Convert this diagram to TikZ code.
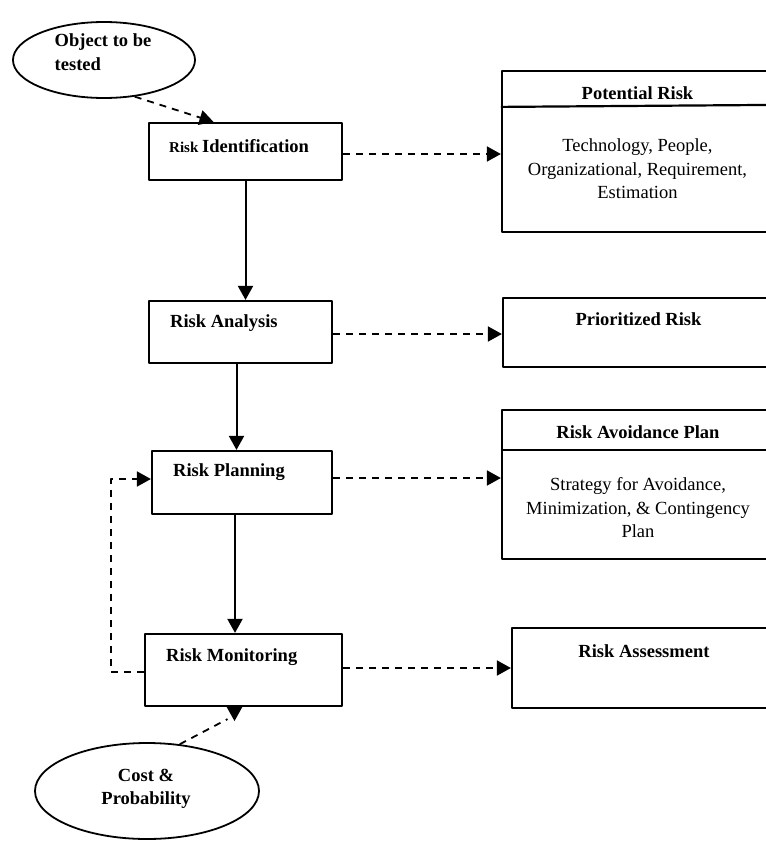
\documentclass[tikz,border=0pt]{standalone}
\usepackage{fontspec}
\setmainfont{Liberation Serif}
\usetikzlibrary{arrows.meta,shapes.geometric}

\begin{document}
\begin{tikzpicture}[x=1pt, y=-1pt, line join=round, >={Triangle[length=14pt,width=15pt]},
	font=\fontsize{18.5}{23.5}\selectfont,
	box/.style={draw, line width=2.2pt, inner sep=0pt},
	oval/.style={draw, ellipse, line width=1.8pt, inner sep=0pt},
	title/.style={font=\fontsize{18.5}{23.5}\selectfont\bfseries, inner sep=0pt},
	body/.style={align=center, inner sep=0pt},
	solidarrow/.style={->, line width=2pt},
	dashline/.style={line width=1.8pt, dash pattern=on 7pt off 6pt},
	dasharrow/.style={dashline, ->}]
	\useasboundingbox (0,0) rectangle (766,841);
	
	% Các khung bên trái
	\node[box, minimum width=193pt, minimum height=57pt] (ident) at (245.5,151.5) {};
	\node[box, minimum width=183pt, minimum height=62pt] (ana) at (240.5,332) {};
	\node[box, minimum width=180pt, minimum height=63pt] (plan) at (242,482.5) {};
	\node[box, minimum width=197pt, minimum height=72pt] (mon) at (243.5,670) {};
	\node[title, anchor=west] (identtxt) at (169,146) {\fontsize{15}{18}\selectfont Risk \fontsize{18.5}{23.5}\selectfont Identification};
	\node[title, anchor=west] (anatxt) at (170,323) {Risk Analysis};
	\node[title, anchor=west] (plantxt) at (173,472) {Risk Planning};
	\node[title, anchor=west] (montxt) at (166,657) {Risk Monitoring};
	
	% Hai hình elip
	\node[oval, minimum width=182pt, minimum height=76pt] (obj) at (104,60) {};
	\node[title, align=left] (objtxt) at (103,52) {Object to be\\tested};
	\node[oval, minimum width=224pt, minimum height=96pt] (cost) at (147,791) {};
	\node[title, align=center] (costtxt) at (146,789) {Cost \&\\Probability};
	
	% Các khung bên phải
	\node[box, minimum width=271pt, minimum height=161pt] (pot) at (637.5,151.5) {};
	\node[title] (pottitle) at (637.5,93) {Potential Risk};
	\node[body] (potbody) at (637.5,169) {Technology, People,\\Organizational, Requirement,\\Estimation};
	\draw[line width=2.2pt] ([yshift=-37pt]pot.north west) -- ([yshift=-35pt]pot.north east);
	
	\node[box, minimum width=271pt, minimum height=69pt] (prio) at (638.5,332.5) {};
	\node[title] (priotitle) at (638.5,319) {Prioritized Risk};
	
	\node[box, minimum width=271pt, minimum height=149pt] (avoid) at (637.5,484.5) {};
	\node[title] (avoidtitle) at (638,432) {Risk Avoidance Plan};
	\node[body] (avoidbody) at (638,508) {Strategy for Avoidance,\\Minimization, \& Contingency\\Plan};
	\draw[line width=1.8pt] ([yshift=-41pt]avoid.north west) -- ([yshift=-41pt]avoid.north east);
	
	\node[box, minimum width=264pt, minimum height=80pt] (assess) at (644,668) {};
	\node[title] (assesstitle) at (644,651) {Risk Assessment};
	
	% Mũi tên liền
	\draw[solidarrow] (ident.south) -- (ident.south |- ana.north);
	\draw[solidarrow] ([xshift=-4pt]ana.south) -- ([xshift=-4pt]ana.south |- plan.north);
	\draw[solidarrow] ([xshift=-7pt]plan.south) -- ([xshift=-7pt]plan.south |- mon.north);
	
	% Mũi tên nét đứt
	\draw[dasharrow] ([yshift=-2.5pt]ident.east) -- ([yshift=-2.5pt]ident.east -| pot.west);
	\draw[dasharrow] ([yshift=-2pt]ana.east) -- ([yshift=-2pt]ana.east -| prio.west);
	\draw[dasharrow] ([yshift=4.5pt]plan.east) -- ([yshift=4.5pt]plan.east -| avoid.west);
	\draw[dasharrow] ([yshift=2pt]mon.east) -- ([yshift=2pt]mon.east -| assess.west);
	\draw[dasharrow] ([yshift=-2pt]mon.west) -- ++(-33,0) |- ([yshift=3.5pt]plan.west);
	\draw[dasharrow] (obj.-50) -- ([xshift=-32pt]ident.north);
	\draw[dashline] (cost.55) -- ([xshift=-16pt,yshift=-12pt]mon.south);
	\draw[solidarrow] ([xshift=-9pt]mon.south) -- ++(0,14);
\end{tikzpicture}
\end{document}
